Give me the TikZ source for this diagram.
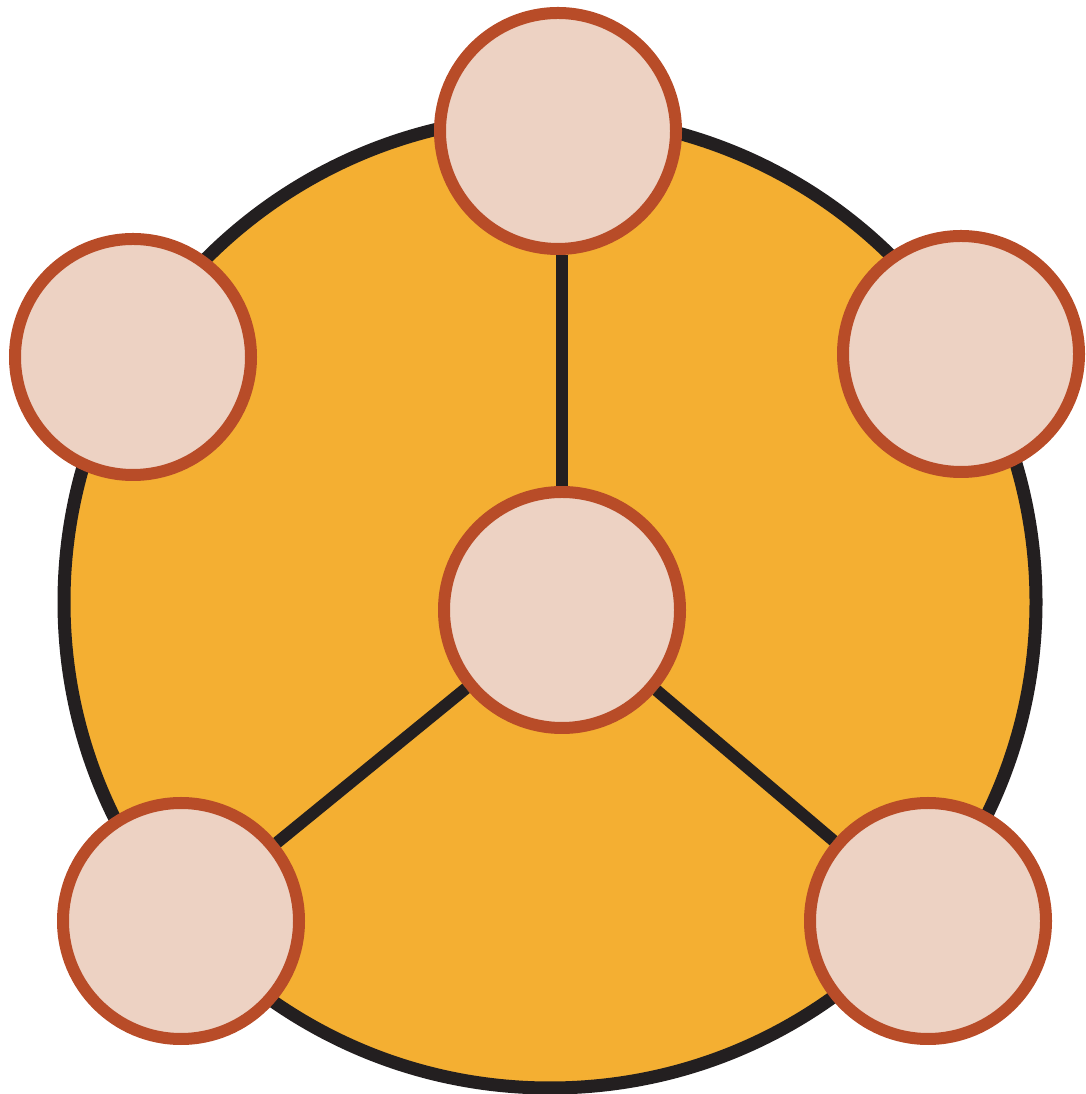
\documentclass[tikz,border=0pt]{standalone}
\definecolor{ringfill}{HTML}{F4AF32}
\definecolor{ringline}{HTML}{231F20}
\definecolor{dotfill}{HTML}{EDD2C3}
\definecolor{dotline}{HTML}{B84C28}
\begin{document}
\begin{tikzpicture}[
    bigring/.style={fill=ringfill, draw=ringline, line width=0.13cm},
    dot/.style={circle, fill=dotfill, draw=dotline, line width=0.12cm, minimum size=2.36cm, inner sep=0pt},
    spoke/.style={draw=ringline, line width=0.12cm}
]
\useasboundingbox (0,0) rectangle (10.85,10.94);

\draw[bigring] (5.50,4.92) circle (4.86);

\node[dot] (top)   at (5.58,9.63) {};
\node[dot] (left)  at (1.33,7.37) {};
\node[dot] (right) at (9.61,7.40) {};
\node[dot] (hub)   at (5.62,4.84) {};
\node[dot] (botl)  at (1.81,1.73) {};
\node[dot] (botr)  at (9.28,1.73) {};

\draw[spoke] (hub) -- (hub |- top.south);
\foreach \n in {botl, botr}
  \draw[spoke] (hub) -- (\n);

\end{tikzpicture}
\end{document}
